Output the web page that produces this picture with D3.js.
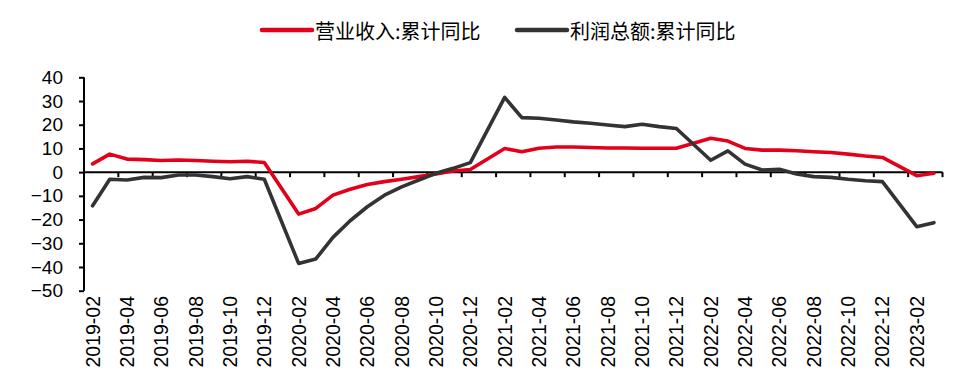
<!DOCTYPE html>
<html><head><meta charset="utf-8">
<script src="https://cdn.jsdelivr.net/npm/d3@7"></script>
<style>
html,body{margin:0;padding:0;background:#fff;}
svg{display:block;}
text{font-family:"Liberation Sans",Arial,sans-serif;fill:#000;}
.leg{font-family:"Noto Sans CJK SC","Liberation Sans",sans-serif;}
</style></head>
<body>
<svg id="c" width="972" height="381"></svg>
<script>
const categories = ["2019-02","2019-03","2019-04","2019-05","2019-06","2019-07","2019-08","2019-09","2019-10","2019-11","2019-12",
"2020-01","2020-02","2020-03","2020-04","2020-05","2020-06","2020-07","2020-08","2020-09","2020-10","2020-11","2020-12",
"2021-01","2021-02","2021-03","2021-04","2021-05","2021-06","2021-07","2021-08","2021-09","2021-10","2021-11","2021-12",
"2022-01","2022-02","2022-03","2022-04","2022-05","2022-06","2022-07","2022-08","2022-09","2022-10","2022-11","2022-12",
"2023-01","2023-02","2023-03"];
const revenueYoY = [3.5,7.6,5.5,5.3,4.9,5.1,4.9,4.6,4.4,4.6,4.1,
null,-17.7,-15.3,-9.7,-7.2,-5.2,-4.0,-3.0,-1.9,-0.8,0.5,1.1,
null,10.0,8.6,10.1,10.6,10.6,10.4,10.2,10.2,10.1,10.1,10.1,
null,14.3,13.1,10.0,9.3,9.3,9.0,8.6,8.3,7.6,6.8,6.2,
null,-1.5,-0.5];
const profitYoY = [-14.2,-3.0,-3.3,-2.2,-2.3,-1.2,-1.2,-1.9,-2.8,-1.9,-3.0,
null,-38.5,-36.6,-27.5,-20.5,-14.6,-9.7,-6.2,-3.3,-0.5,1.6,4.0,
null,31.5,23.0,22.7,22.0,21.2,20.6,19.9,19.2,20.2,19.2,18.4,
null,5.0,9.0,3.4,0.9,1.2,-0.8,-1.9,-2.2,-3.0,-3.6,-4.0,
null,-23.0,-21.3];
const seriesNames = ["营业收入:累计同比","利润总额:累计同比"];
const seriesColors = ["#e2001a","#333333"];
const yTicks = [40,30,20,10,0,-10,-20,-30,-40,-50];
const xTickLabels = ["2019-02","2019-04","2019-06","2019-08","2019-10","2019-12",
"2020-02","2020-04","2020-06","2020-08","2020-10","2020-12",
"2021-02","2021-04","2021-06","2021-08","2021-10","2021-12",
"2022-02","2022-04","2022-06","2022-08","2022-10","2022-12","2023-02"];

const svg = d3.select("#c");
const x = d3.scaleBand().domain(categories).range([84, 942.5]).padding(0);
const y = d3.scaleLinear().domain([-50, 40]).range([290.7, 77.3]);
const bw = x.bandwidth();

// Y axis
const yAxis = svg.append("g").attr("transform","translate(84,0)")
  .call(d3.axisLeft(y).tickValues(yTicks).tickSize(5).tickPadding(16).tickFormat(d3.format("d")));
yAxis.select(".domain").attr("stroke","#000").attr("stroke-width",2).attr("d","M0,"+y(40)+"V"+y(-50));
yAxis.selectAll(".tick line").attr("stroke","#000").attr("stroke-width",2);
yAxis.selectAll(".tick text").attr("font-size","19px").attr("font-family","Liberation Sans, Arial, sans-serif").attr("fill","#000");

// X axis line at zero
const x0 = y(0);
svg.append("line").attr("x1",84).attr("x2",x.range()[1]).attr("y1",x0).attr("y2",x0)
  .attr("stroke","#000").attr("stroke-width",2);
// Tick marks at band boundaries every 2 categories
const tickPos = [];
for (let i = 2; i < categories.length; i += 2) tickPos.push(x(categories[i]));
tickPos.push(x.range()[1]);
svg.append("g").selectAll("line").data(tickPos).join("line")
  .attr("x1",d=>d).attr("x2",d=>d).attr("y1",x0).attr("y2",x0+5)
  .attr("stroke","#000").attr("stroke-width",2);

// X labels (rotated) below plot
const labY = 296;
svg.append("g").selectAll("text").data(xTickLabels).join("text")
  .attr("x",d=>x(d)+bw/2).attr("y",labY)
  .attr("transform",d=>`rotate(-90,${x(d)+bw/2},${labY})`)
  .attr("text-anchor","end").attr("dominant-baseline","central")
  .attr("font-size","19.5px").text(d=>d);

// Lines
const line = d3.line().defined(d=>d.v!==null).x(d=>x(d.c)+bw/2).y(d=>y(d.v)).curve(d3.curveLinear);
[revenueYoY, profitYoY].forEach((arr, k) => {
  const pts = categories.map((c,i)=>({c, v: arr[i]})).filter(d=>d.v!==null);
  svg.append("path").datum(pts).attr("d", line)
    .attr("fill","none").attr("stroke",seriesColors[k]).attr("stroke-width",3.6)
    .attr("stroke-linejoin","round").attr("stroke-linecap","round");
});

// Legend
const legX = [260, 515];
seriesNames.forEach((n,k)=>{
  const g = svg.append("g");
  g.append("line").attr("x1",legX[k]+2).attr("x2",legX[k]+52).attr("y1",30).attr("y2",30)
    .attr("stroke",seriesColors[k]).attr("stroke-width",4.5).attr("stroke-linecap","round");
  g.append("text").attr("class","leg").attr("x",legX[k]+55).attr("y",30)
    .attr("dominant-baseline","central").attr("font-size","20px").text(n);
});
</script>
</body></html>
